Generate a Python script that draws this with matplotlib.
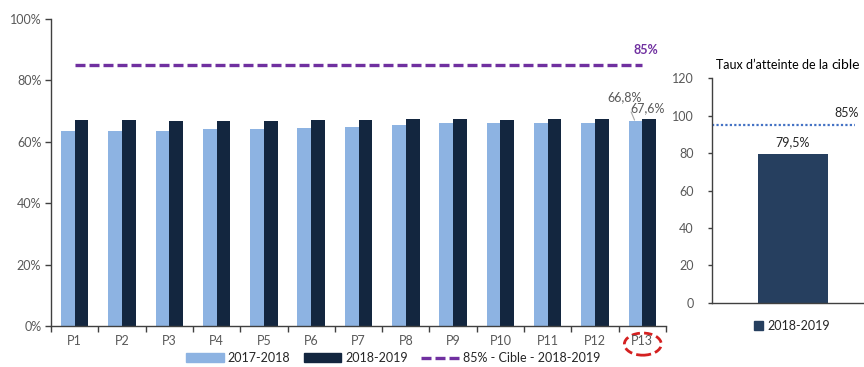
import matplotlib
matplotlib.use("Agg")
import matplotlib.pyplot as plt
from matplotlib.patches import Ellipse, Patch
from matplotlib.lines import Line2D
import numpy as np

plt.rcParams['font.family'] = ['Lato', 'DejaVu Sans']

# --- data -------------------------------------------------------------
periods = [f"P{i}" for i in range(1, 14)]
rate_2017_2018 = [63.4, 63.4, 63.7, 64.2, 64.2, 64.5, 64.9, 65.6, 66.0, 66.0, 66.3, 66.3, 66.8]
rate_2018_2019 = [67.1, 67.1, 66.7, 66.7, 66.7, 67.1, 67.1, 67.4, 67.4, 67.1, 67.4, 67.4, 67.6]
target_pct = 85
y_ticks = [0, 20, 40, 60, 80, 100]

summary_label = "2018-2019"
summary_value = 79.5
summary_target_label = "85%"
summary_target_line = 95
summary_ticks = [0, 20, 40, 60, 80, 100, 120]

# --- styles -----------------------------------------------------------
C_LIGHT = "#8DB3E2"
C_DARK = "#13263F"
C_TARGET = "#7030A0"
C_SUMMARY = "#263F5F"
C_DOT = "#4472C4"
C_TEXT = "#595959"
C_AXIS = "#404040"

fig = plt.figure(figsize=(8.64, 3.67), dpi=100)

# --- main chart -------------------------------------------------------
ax = fig.add_axes([51 / 864, 1 - 326.3 / 367, 615 / 864, 307.3 / 367])
x = np.arange(len(periods))
w = 0.29
ax.bar(x - w / 2, rate_2017_2018, width=w, color=C_LIGHT, label="2017-2018")
ax.bar(x + w / 2, rate_2018_2019, width=w, color=C_DARK, label="2018-2019")
ax.plot([x[0], x[-1]], [target_pct, target_pct], color=C_TARGET, lw=2.4,
        dashes=(3, 1.2), solid_capstyle="butt", dash_capstyle="butt",
        label="85% - Cible - 2018-2019")

ax.set_xlim(-0.5, len(periods) - 0.5)
ax.set_ylim(0, 100)
ax.set_yticks(y_ticks)
ax.set_yticklabels([f"{v}%" for v in y_ticks])
ax.set_xticks(np.arange(-0.5, len(periods) + 0.5, 1))
ax.set_xticklabels([])
ax.set_xticks(x, minor=True)
ax.set_xticklabels(periods, minor=True)
ax.tick_params(axis="x", which="major", length=4, width=1, color=C_AXIS)
ax.tick_params(axis="x", which="minor", length=0, pad=6, labelsize=9, labelcolor=C_TEXT)
ax.tick_params(axis="y", length=4, width=1, color=C_AXIS, labelsize=9,
               labelcolor=C_TEXT, pad=3)
for s in ("top", "right"):
    ax.spines[s].set_visible(False)
for s in ("left", "bottom"):
    ax.spines[s].set_color(C_AXIS)
    ax.spines[s].set_linewidth(1)

# target label
ax.text(x[-1] + 0.07, 90, f"{target_pct}%", color=C_TARGET, fontsize=9,
        fontweight="bold", ha="center", va="center")
# last-period value labels
ax.annotate(f"{rate_2017_2018[-1]:.1f}%".replace(".", ","),
            xy=(x[-1] - w / 2 - 0.02, rate_2017_2018[-1] + 0.3),
            xytext=(x[-1] - 0.37, 74.7), ha="center", va="center",
            fontsize=9, color=C_TEXT,
            arrowprops=dict(arrowstyle="-", color="#A6A6A6", lw=0.8,
                            shrinkA=5, shrinkB=0))
ax.text(x[-1] + 0.11, 71.1, f"{rate_2018_2019[-1]:.1f}%".replace(".", ","),
        ha="center", va="center", fontsize=9, color=C_TEXT)

# highlight around the last period
ax.add_patch(Ellipse((x[-1] + 0.01, -5.8), 0.78, 7.2, fill=False,
                     edgecolor="#D42020", lw=2, linestyle=(0, (3, 1.5)),
                     clip_on=False))

handles = [Patch(color=C_LIGHT), Patch(color=C_DARK),
           Line2D([], [], color=C_TARGET, lw=2.4, dashes=(3, 1.2))]
fig.legend(handles, ["2017-2018", "2018-2019", "85% - Cible - 2018-2019"],
           loc="center", bbox_to_anchor=(393 / 864, 1 - 358 / 367), ncol=3,
           frameon=False, fontsize=9, handlelength=3.0, handleheight=0.7,
           handletextpad=0.3, columnspacing=1.1, labelcolor="#262626",
           borderaxespad=0, borderpad=0)

# --- summary chart ----------------------------------------------------
ax2 = fig.add_axes([711.7 / 864, 1 - 302.7 / 367, 152.3 / 864, 224.4 / 367])
ax2.bar([0.534], [summary_value], width=0.456, color=C_SUMMARY,
        label=summary_label)
ax2.plot([0, 0.94], [summary_target_line, summary_target_line], color=C_DOT,
         lw=1.6, linestyle=(0, (1, 1)))
ax2.set_xlim(0, 1)
ax2.set_ylim(0, 120)
ax2.set_yticks(summary_ticks)
ax2.set_xticks([])
ax2.tick_params(axis="y", length=3, width=1, color=C_AXIS, labelsize=9,
                labelcolor=C_TEXT, pad=10)
for s in ("top", "right"):
    ax2.spines[s].set_visible(False)
for s in ("left", "bottom"):
    ax2.spines[s].set_color(C_AXIS)
    ax2.spines[s].set_linewidth(1)
ax2.spines["bottom"].set_bounds(0, 1.2)

ax2.annotate(f"{summary_value:.1f}%".replace(".", ","), xy=(0.534, summary_value),
             xytext=(0, 4), textcoords="offset points", ha="center", va="bottom",
             fontsize=9, color="#262626")
ax2.text(0.886, 101.6, summary_target_label, ha="center", va="center",
         fontsize=9, color="#262626")

# title of the summary panel, last word set slightly larger
title_y = 1 - 69 / 367
title_a = fig.text(716 / 864, title_y, "Taux d’atteinte de la",
                   ha="left", va="baseline", fontsize=9, color="#000000")
fig.canvas.draw()
bb = title_a.get_window_extent()
fig.text((bb.x1 + 3) / 864, title_y, "cible", ha="left", va="baseline",
         fontsize=10, color="#000000")

fig.legend([Patch(color=C_SUMMARY)], [summary_label], loc="center",
           bbox_to_anchor=(792 / 864, 1 - 326 / 367), frameon=False,
           fontsize=9, handlelength=0.7, handleheight=0.7, handletextpad=0.3,
           labelcolor="#262626", borderaxespad=0, borderpad=0)

fig.savefig("out.png", dpi=100)
